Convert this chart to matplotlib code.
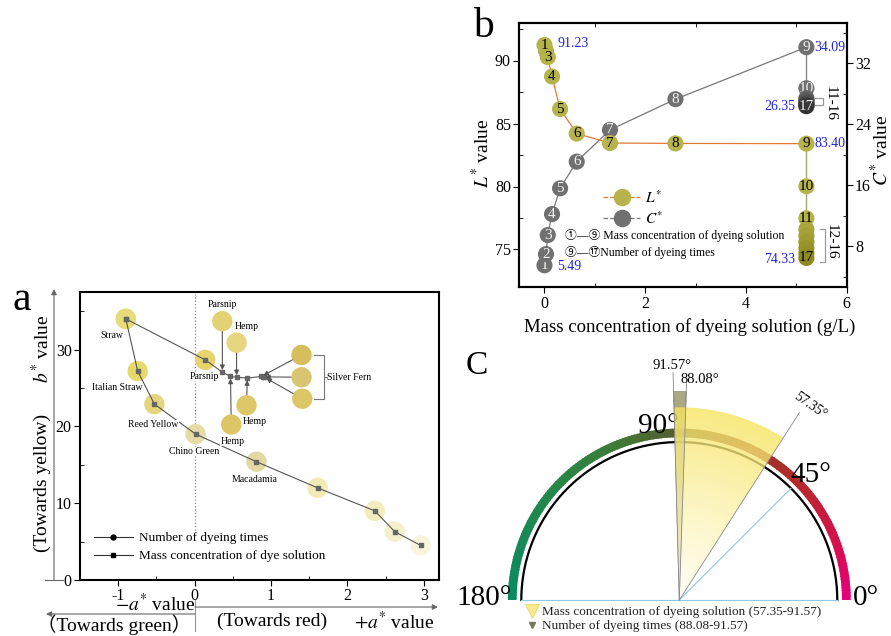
import numpy as np
import matplotlib
matplotlib.use('Agg')
import matplotlib.pyplot as plt
from matplotlib.patches import Wedge
from matplotlib.lines import Line2D
from matplotlib.colors import LinearSegmentedColormap

plt.rcParams['font.family'] = ['Liberation Serif', 'Noto Sans CJK SC', 'DejaVu Sans']
plt.rcParams['mathtext.fontset'] = 'stix'
plt.rcParams['axes.unicode_minus'] = False

# ---------------- Panel a data ----------------
conc_names = ['Straw', 'Italian Straw', 'Reed Yellow', 'Chino Green', 'Macadamia', '', '', '', '']
conc_a = [-0.90, -0.745, -0.526, 0.013, 0.81, 1.61, 2.36, 2.62, 2.96]
conc_b = [34.0, 27.2, 22.9, 19.0, 15.4, 12.0, 9.0, 6.3, 4.5]
conc_colors = ['#e8dc78', '#e6d96a', '#e4d67e', '#e6dca4', '#e3d8a2', '#f1eab4', '#f2ecbe', '#f5f0cc', '#f8f5dc']

times_a = [-0.90, 0.14, 0.364, 0.47, 0.55, 0.69, 0.875, 0.895, 0.915]
times_b = [34.0, 28.66, 27.06, 26.5, 26.4, 26.3, 26.5, 26.45, 26.4]
times_names = ['', 'Parsnip', '', '', '', '', '', '', '']
times_colors = ['#e8dc78', '#e6d56c', None, None, None, None, None, None, None]

swatch_names = ['Parsnip', 'Hemp', 'Hemp', 'Hemp', '', '', '']
swatch_a = [0.363, 0.55, 0.48, 0.68, 1.40, 1.40, 1.41]
swatch_b = [33.7, 30.9, 20.25, 22.75, 29.3, 26.4, 23.6]
swatch_target = [2, 4, 3, 5, 6, 7, 8]
swatch_colors = ['#e2d274', '#e6d680', '#dcc564', '#ddc768', '#d6be5c', '#d9c472', '#dcc666']

# ---------------- Panel b data ----------------
conc_x = [0.0, 0.03, 0.065, 0.15, 0.31, 0.64, 1.30, 2.60, 5.20]
L_conc = [91.23, 90.75, 90.27, 88.73, 86.15, 84.20, 83.45, 83.42, 83.40]
C_conc = [5.49, 6.95, 9.45, 12.20, 15.58, 19.08, 23.24, 27.27, 34.09]
conc_ids = ['1', '2', '3', '4', '5', '6', '7', '8', '9']
L_conc_show = ['1', '', '3', '4', '5', '6', '7', '8', '9']

times_x = [5.20] * 9
L_times = [83.40, 80.02, 77.48, 76.60, 76.10, 75.60, 75.10, 74.70, 74.33]
C_times = [34.09, 28.70, 27.40, 27.20, 27.00, 26.80, 26.60, 26.45, 26.35]
times_ids = ['9', '10', '11', '12', '13', '14', '15', '16', '17']
L_times_show = ['9', '10', '11', '', '', '', '', '', '17']
C_times_show = ['9', '10', '', '', '', '', '', '', '17']

# ---------------- Panel c data ----------------
conc_range = [57.35, 91.57]
times_range = [88.08, 91.57]
ref_angles = [0, 45, 90, 180]

W, H = 891, 636
fig = plt.figure(figsize=(W / 100, H / 100), dpi=100)


def px_axes(l, t, r, b):
    return fig.add_axes([l / W, 1 - b / H, (r - l) / W, (b - t) / H])


# overlay axes in pixel coordinates for decorations
ov = px_axes(0, 0, W, H)
ov.set_xlim(0, W)
ov.set_ylim(H, 0)
ov.axis('off')
ov.set_zorder(10)
ov.patch.set_visible(False)

# ================= Panel a =================
axa = px_axes(80, 292, 439, 580)
axa.set_xlim(-1.5, 3.2)
axa.set_ylim(0, 37.5)
for s in axa.spines.values():
    s.set_linewidth(1.5)
axa.set_xticks([-1, 0, 1, 2, 3])
axa.set_xticks([-0.5, 0.5, 1.5, 2.5], minor=True)
axa.set_yticks([0, 10, 20, 30])
axa.set_yticks([5, 15, 25, 35], minor=True)
axa.tick_params(which='major', direction='out', length=4, labelsize=11.5, pad=2)
axa.tick_params(which='minor', direction='in', length=3)

axa.plot([0, 0], [6.5, 37.2], ls=':', color='#888888', lw=0.9, zorder=1)

axa.scatter(conc_a, conc_b, s=215, c=conc_colors, edgecolors='none', zorder=2)
axa.scatter(times_a[:2], times_b[:2], s=215, c=times_colors[:2], edgecolors='none', zorder=2)
axa.scatter(swatch_a, swatch_b, s=215, c=swatch_colors, edgecolors='none', zorder=2)
axa.plot(conc_a, conc_b, color='#555555', lw=0.8, marker='s', ms=2.5, mfc='#666666', mec='#666666', zorder=3)
axa.plot(times_a, times_b, color='#555555', lw=0.8, marker='s', ms=2.5, mfc='#666666', mec='#666666', zorder=3)

# arrows from reference swatches to points
for sa, sb, t in zip(swatch_a, swatch_b, swatch_target):
    axa.annotate('', xy=(times_a[t], times_b[t]), xytext=(sa, sb),
                 arrowprops=dict(arrowstyle='-|>', color='#555555', lw=0.8, mutation_scale=7,
                                 shrinkA=7.5, shrinkB=1.5), zorder=3)

lab_kw = dict(fontsize=7, ha='center', va='center', zorder=5,
              bbox=dict(facecolor='white', edgecolor='none', pad=0.3))
conc_offsets = [(-10, -12), (-15, -12), (-1, -15), (-1, -12.5), (-1, -12.5)]
for name, x, y, off in zip(conc_names, conc_a, conc_b, conc_offsets):
    if name:
        axa.annotate(name, (x, y), xytext=off, textcoords='offset points', **lab_kw)
axa.annotate(times_names[1], (times_a[1], times_b[1]), xytext=(-1, -12), textcoords='offset points', **lab_kw)
sw_offsets = [(0, 12), (7, 12), (1, -12), (6, -12)]
for name, x, y, off in zip(swatch_names, swatch_a, swatch_b, sw_offsets):
    if name:
        axa.annotate(name, (x, y), xytext=off, textcoords='offset points', **lab_kw)
# Silver Fern bracket
bx0 = max(swatch_a[4:]) + 0.15
bx1 = bx0 + 0.13
ytop, ymid, ybot = swatch_b[4], swatch_b[5], swatch_b[6]
axa.plot([bx0, bx1, bx1, bx0], [ytop, ytop, ybot, ybot], color='#777777', lw=0.8)
axa.plot([bx1, bx1 + 0.04], [ymid, ymid], color='#777777', lw=0.8)
axa.text(bx1 + 0.05, ymid, 'Silver Fern', fontsize=7, ha='left', va='center')

leg_a = axa.legend(handles=[
    Line2D([], [], color='#333333', lw=0.8, marker='o', ms=3.5, mfc='black', mec='black'),
    Line2D([], [], color='#333333', lw=0.8, marker='s', ms=3, mfc='black', mec='black')],
    labels=['Number of dyeing times', 'Mass concentration of dye solution'],
    loc='lower left', bbox_to_anchor=(0.005, 0.02), frameon=False, fontsize=9.5,
    handlelength=3.0, handletextpad=0.4, labelspacing=0.45)

# panel a decorations
arr = dict(arrowstyle='-|>', color='#666666', lw=0.8, mutation_scale=8, shrinkA=0, shrinkB=0)
ov.annotate('', xy=(54, 289), xytext=(54, 580), arrowprops=arr)
ov.plot([45, 63], [580, 580], color='#666666', lw=0.8)
ov.annotate('', xy=(438, 607), xytext=(195, 607), arrowprops=arr)
ov.annotate('', xy=(46, 614), xytext=(195, 614), arrowprops=arr)
ov.plot([195, 195], [600, 631], color='#999999', lw=0.8)
ov.text(196, 604, r'$-a^{*}$ value', fontsize=14, ha='right', va='center')
ov.text(114, 625, '（Towards green）', fontsize=14, ha='center', va='center')
ov.text(272, 621, '(Towards red)', fontsize=14, ha='center', va='center')
ov.text(435, 621, r'$+a^{*}$ value', fontsize=14, ha='right', va='center')
ov.text(42, 349, r'$b^{*}$ value', fontsize=14, rotation=90, ha='center', va='center')
ov.text(42, 483, '(Towards yellow)', fontsize=14, rotation=90, ha='center', va='center')
ov.text(22, 300, 'a', fontsize=30, ha='center', va='center')
ov.text(483, 27, 'b', fontsize=30, ha='center', va='center')

# ================= Panel b =================
axb = px_axes(519.3, 22.7, 846.7, 287.3)
axc2 = axb.twinx()
axb.set_zorder(axc2.get_zorder() + 1)
axb.patch.set_visible(False)
axb.set_xlim(-0.5, 6)
axb.set_ylim(72, 93)
axc2.set_ylim(2.6, 37.3)
for a_ in (axb, axc2):
    for s in a_.spines.values():
        s.set_linewidth(1.5)
axb.set_xticks([0, 2, 4, 6])
axb.set_xticks([1, 3, 5], minor=True)
axb.set_yticks([75, 80, 85, 90])
axb.set_yticks([77.5, 82.5, 87.5, 92.5], minor=True)
axc2.set_yticks([8, 16, 24, 32])
axc2.set_yticks([4, 12, 20, 28, 36], minor=True)
axb.tick_params(which='major', direction='out', length=4, labelsize=11.5, pad=2)
axb.tick_params(which='minor', direction='in', length=3, top=True)
axc2.tick_params(which='major', direction='out', length=4, labelsize=11.5, pad=2)
axc2.tick_params(which='minor', direction='in', length=3)

L_col, C_col = '#b7b34c', '#707070'
L_line, C_line = '#e07b39', '#777777'
axb.plot(conc_x, L_conc, color=L_line, lw=0.9, zorder=1)
axb.plot(times_x, L_times, color='#a4a476', lw=1.0, zorder=1)
axc2.plot(conc_x, C_conc, color=C_line, lw=0.9, zorder=1)
axc2.plot(times_x, C_times, color='#888888', lw=1.0, zorder=1)

msz = 135
L_times_cols = [L_col, L_col, L_col, '#aba73e', '#a5a138', '#9f9b31', '#99952b', '#939026', '#8c8920']
C_times_cols = [C_col, C_col, '#666666', '#5f5f5f', '#585858', '#505050', '#484848', '#404040', '#363636']
z = 2
for x, y, t in zip(conc_x, C_conc, conc_ids):
    axc2.scatter([x], [y], s=msz, color=C_col, edgecolors='none', zorder=z)
    axc2.text(x, y, t, fontsize=11, color='#f2f2f2', ha='center', va='center', zorder=z + 0.5)
    z += 1
for x, y, t, c in zip(times_x[1:], C_times[1:], C_times_show[1:], C_times_cols[1:]):
    axc2.scatter([x], [y], s=msz, color=c, edgecolors='none', zorder=z)
    if t:
        axc2.text(x, y, t, fontsize=11, color='#f2f2f2', ha='center', va='center', zorder=z + 0.5)
    z += 1
z = 2
for x, y, t in zip(conc_x, L_conc, L_conc_show):
    axb.scatter([x], [y], s=msz, color=L_col, edgecolors='none', zorder=z)
    z += 1
for x, y, c in zip(times_x[1:], L_times[1:], L_times_cols[1:]):
    axb.scatter([x], [y], s=msz, color=c, edgecolors='none', zorder=z)
    z += 1
for x, y, t in list(zip(conc_x, L_conc, L_conc_show)) + list(zip(times_x[1:], L_times[1:], L_times_show[1:])):
    if t:
        axb.text(x, y, t, fontsize=11, color='black', ha='center', va='center', zorder=40)

blue = '#2323d8'
axb.annotate(f'{L_conc[0]:.2f}', (conc_x[0], L_conc[0]), xytext=(9.5, 1), textcoords='offset points',
             color=blue, fontsize=10, ha='left', va='center', zorder=41)
axc2.annotate(f'{C_conc[0]:.2f}', (conc_x[0], C_conc[0]), xytext=(9, -1), textcoords='offset points',
              color=blue, fontsize=10, ha='left', va='center', zorder=41)
axc2.annotate(f'{C_conc[-1]:.2f}', (conc_x[-1], C_conc[-1]), xytext=(6, 0), textcoords='offset points',
              color=blue, fontsize=10, ha='left', va='center', zorder=41)
axb.annotate(f'{L_conc[-1]:.2f}', (conc_x[-1], L_conc[-1]), xytext=(6, 0), textcoords='offset points',
             color=blue, fontsize=10, ha='left', va='center', zorder=41)
axc2.annotate(f'{C_times[-1]:.2f}', (times_x[-1], C_times[-1]), xytext=(-8, 0), textcoords='offset points',
              color=blue, fontsize=10, ha='right', va='center', zorder=41)
axb.annotate(f'{L_times[-1]:.2f}', (times_x[-1], L_times[-1]), xytext=(-8, -1), textcoords='offset points',
             color=blue, fontsize=10, ha='right', va='center', zorder=41)

# brackets
bxa, bxb = 5.38, 5.53
axc2.plot([bxa, bxb, bxb, bxa], [C_times[2], C_times[2], C_times[7], C_times[7]], color='#999999', lw=0.9, zorder=30)
axc2.text(5.67, 26.75, '11-16', rotation=270, fontsize=11, ha='center', va='center', zorder=41)
axb.plot([5.46, 5.56, 5.56, 5.46], [L_times[3] + 0.05, L_times[3] + 0.05, L_times[8] - 0.3, L_times[8] - 0.3],
         color='#999999', lw=0.9, zorder=30)
axb.text(5.70, 75.6, '12-16', rotation=270, fontsize=11, ha='center', va='center', zorder=41)

leg_b = axb.legend(handles=[
    Line2D([], [], color=L_line, ls='--', lw=0.9, marker='o', ms=11.6, mfc=L_col, mec=L_col),
    Line2D([], [], color=C_line, ls='--', lw=0.9, marker='o', ms=11.6, mfc=C_col, mec=C_col)],
    labels=[r'$L^{*}$', r'$C^{*}$'], loc='center left', bbox_to_anchor=(0.215, 0.30),
    frameon=False, fontsize=11, handlelength=2.4, handletextpad=0.3, labelspacing=0.3)
leg_b.set_zorder(45)
axb.text(0.14, 0.194, '①—⑨ Mass concentration of dyeing solution', transform=axb.transAxes,
         fontsize=8.5, ha='left', va='center', zorder=45)
axb.text(0.14, 0.13, '⑨—⑰Number of dyeing times', transform=axb.transAxes,
         fontsize=8.5, ha='left', va='center', zorder=45)

ov.text(482, 153, r'$L^{*}$ value', fontsize=14, rotation=90, ha='center', va='center')
ov.text(881, 150, r'$C^{*}$ value', fontsize=14, rotation=90, ha='center', va='center')
ov.text(690, 327, 'Mass concentration of dyeing solution (g/L)', fontsize=13.5, ha='center', va='center')

# ================= Panel c =================
axc = px_axes(460, 340, 891, 636)
axc.axis('off')
band_cmap = LinearSegmentedColormap.from_list('band', [
    (0.0, '#e6007a'), (0.11, '#d6104c'), (0.25, '#b52a2a'), (0.38, '#8e3a24'),
    (0.5, '#5a5a30'), (0.62, '#3f7a36'), (0.78, '#23884a'), (1.0, '#0b8a62')])
r_in, r_out = 1.03, 1.085
N = 180
for i in range(N):
    t1 = 180.0 * i / N
    t2 = 180.0 * (i + 1) / N
    axc.add_patch(Wedge((0, 0), r_out, t1, min(t2 + 0.6, 180), width=r_out - r_in,
                        facecolor=band_cmap((t1 + t2) / 360.0), edgecolor='none', zorder=1))
th = np.linspace(0, np.pi, 300)
axc.plot(np.cos(th), np.sin(th), color='black', lw=1.6, zorder=2)
# reference lines
axc.plot([-1, 1], [0, 0], color='#8ccbe8', lw=0.8, zorder=2)
a45 = np.deg2rad(ref_angles[1])
axc.plot([0, np.cos(a45)], [0, np.sin(a45)], color='#8ccbe8', lw=0.8, zorder=2)

# number of dyeing times wedge
axc.add_patch(Wedge((0, 0), 1.32, times_range[0], times_range[1], facecolor='#8f8c5a', alpha=0.75,
                    edgecolor='#777777', lw=0.5, zorder=3))
# mass concentration wedge with radial gradient
R = 1.22
xs = np.linspace(-0.3, 1.35, 400)
ys = np.linspace(-0.05, 1.35, 400)
X, Y = np.meshgrid(xs, ys)
Rr = np.sqrt(X ** 2 + Y ** 2) / R
ycmap = LinearSegmentedColormap.from_list('yw', ['#fffef6', '#fcf3b0', '#f7e45e'])
im = axc.imshow(Rr, extent=(xs[0], xs[-1], ys[0], ys[-1]), origin='lower', cmap=ycmap,
                vmin=0, vmax=1, alpha=0.78, zorder=4, aspect='auto', interpolation='bilinear')
wclip = Wedge((0, 0), R, conc_range[0], conc_range[1], facecolor='none', edgecolor='none',
              transform=axc.transData)
axc.add_patch(wclip)
im.set_clip_path(wclip)

def ray(angle, r0, r1, **kw):
    a = np.deg2rad(angle)
    axc.plot([r0 * np.cos(a), r1 * np.cos(a)], [r0 * np.sin(a), r1 * np.sin(a)], **kw)

ray(conc_range[0], 0, 1.41, color='#888888', lw=0.6, zorder=6)
ray(times_range[1], 0, 1.44, color='#888888', lw=0.6, zorder=6)
ray(times_range[0], 0, 1.37, color='#888888', lw=0.6, zorder=6)

axc.set_xlim(-1.388, 1.340)
axc.set_ylim(-0.228, 1.646)

axc.text(-0.048, 1.487, f'{times_range[1]:.2f}°', fontsize=10.5, ha='center', va='center', zorder=7)
axc.text(0.13, 1.397, f'{times_range[0]:.2f}°', fontsize=10.5, ha='center', va='center', zorder=7)
axc.text(0.83, 1.23, f'{conc_range[0]:.2f}°', fontsize=10, ha='center', va='center', rotation=-35, zorder=7)
axc.text(-0.133, 1.10, f'{ref_angles[2]}°', fontsize=21, ha='center', va='center', zorder=3.5)
axc.text(0.83, 0.79, f'{ref_angles[1]}°', fontsize=21, ha='center', va='center', zorder=7)
axc.text(-1.06, 0.01, f'{ref_angles[3]}°', fontsize=21, ha='right', va='center', zorder=7)
axc.text(1.10, 0.01, f'{ref_angles[0]}°', fontsize=21, ha='left', va='center', zorder=7)
axc.text(-1.28, 1.48, 'C', fontsize=24, ha='center', va='center')

axc.plot([-0.934], [-0.072], marker='v', ms=10, color='#f7ec8a', mec='#e6d676', mew=0.6, zorder=7, clip_on=False)
axc.plot([-0.934], [-0.160], marker='v', ms=5, color='#77775a', mec='#77775a', zorder=7, clip_on=False)
axc.text(-0.87, -0.078, f'Mass concentration of dyeing solution ({conc_range[0]:.2f}-{conc_range[1]:.2f})',
         fontsize=9.5, ha='left', va='center', color='#222222', zorder=7)
axc.text(-0.87, -0.162, f'Number of dyeing times ({times_range[0]:.2f}-{times_range[1]:.2f})',
         fontsize=9.5, ha='left', va='center', color='#222222', zorder=7)

fig.savefig('out.png', dpi=100)
